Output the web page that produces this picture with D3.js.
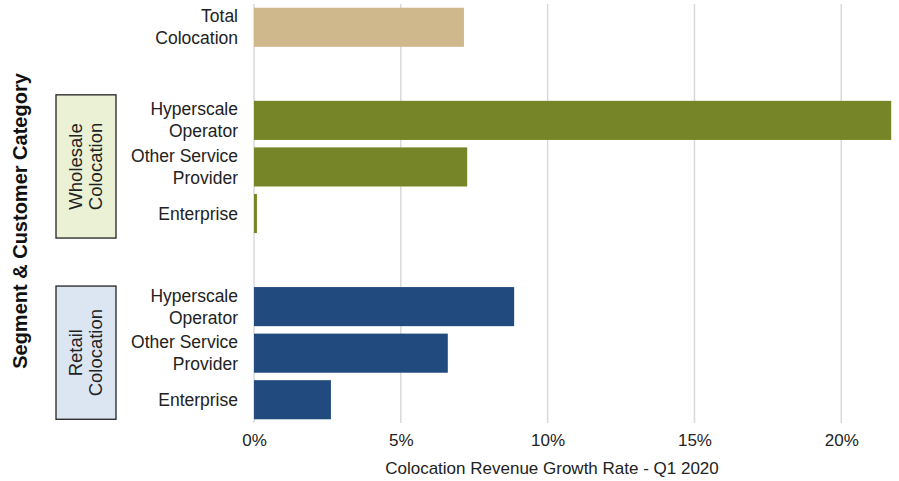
<!DOCTYPE html>
<html>
<head>
<meta charset="utf-8">
<script src="https://cdn.jsdelivr.net/npm/d3@7"></script>
<style>
  body { margin: 0; background: #fff; }
  svg { font-family: "Liberation Sans", Arial, sans-serif; }
</style>
</head>
<body>
<div id="chart"></div>
<script>
// rows top to bottom, blanks are spacer rows
const rowKeys = ["total", "gap1", "wHyper", "wOther", "wEnt", "gap2", "rHyper", "rOther", "rEnt"];
const rowLabels = [["Total", "Colocation"], [], ["Hyperscale", "Operator"], ["Other Service", "Provider"], ["Enterprise"], [], ["Hyperscale", "Operator"], ["Other Service", "Provider"], ["Enterprise"]];
const growth = [0.0715, null, 0.217, 0.0726, 0.001, null, 0.0886, 0.066, 0.0262];
const segment = ["total", null, "wholesale", "wholesale", "wholesale", null, "retail", "retail", "retail"];
const xTicks = [0, 0.05, 0.10, 0.15, 0.20];

const groups = [
  {name: ["Wholesale", "Colocation"], first: "wHyper", last: "wEnt", fill: "#ebf1d5", padTop: 6, padBottom: 5},
  {name: ["Retail", "Colocation"], first: "rHyper", last: "rEnt", fill: "#dce6f2", padTop: 1, padBottom: 0}
];
const colors = {total: "#cfb88c", wholesale: "#768528", retail: "#214a7e"};

const width = 899, height = 481;
const svg = d3.select("#chart").append("svg")
    .attr("width", width)
    .attr("height", height);

const x = d3.scaleLinear().domain([0, 0.22]).range([254, 900]);
const y = d3.scaleBand().domain(rowKeys).range([4, 423]).paddingInner(0.16).paddingOuter(0.08);

// vertical grid
svg.append("g").selectAll("line")
    .data(xTicks)
    .join("line")
    .attr("x1", d => x(d)).attr("x2", d => x(d))
    .attr("y1", 4).attr("y2", 423)
    .attr("stroke", "#d9d9d9")
    .attr("stroke-width", 1.5);

// bars
svg.append("g").selectAll("rect")
    .data(rowKeys.map((k, i) => ({k, v: growth[i], s: segment[i]})).filter(d => d.v !== null))
    .join("rect")
    .attr("x", x(0))
    .attr("y", d => y(d.k))
    .attr("width", d => x(d.v) - x(0))
    .attr("height", y.bandwidth())
    .attr("fill", d => colors[d.s]);

// x axis
const xAxis = svg.append("g")
    .attr("transform", "translate(0,423)")
    .call(d3.axisBottom(x).tickValues(xTicks).tickFormat(d3.format(".0%")).tickSize(0).tickPadding(11));
xAxis.select(".domain").remove();
xAxis.selectAll("text").attr("font-size", 17).attr("fill", "#222").attr("font-family", "Liberation Sans, Arial, sans-serif");

svg.append("text")
    .attr("x", 552).attr("y", 474)
    .attr("text-anchor", "middle")
    .attr("font-size", 17)
    .attr("fill", "#222")
    .text("Colocation Revenue Growth Rate - Q1 2020");

// category labels
const catLabels = svg.append("g").selectAll("text")
    .data(rowKeys.map((k, i) => ({k, lines: rowLabels[i]})).filter(d => d.lines.length))
    .join("text")
    .attr("text-anchor", "end")
    .attr("font-size", 17.5)
    .attr("fill", "#222");
catLabels.each(function(d) {
  const cy = y(d.k) + y.bandwidth() / 2;
  const n = d.lines.length;
  d3.select(this).selectAll("tspan")
    .data(d.lines)
    .join("tspan")
    .attr("x", 238)
    .attr("y", (t, j) => cy + (j - (n - 1) / 2) * 22 + 6)
    .text(t => t);
});

// segment boxes
const boxTop = d => y(d.first) - d.padTop;
const boxBottom = d => y(d.last) + y.bandwidth() + d.padBottom;
const gBox = svg.append("g").selectAll("g")
    .data(groups)
    .join("g");
gBox.append("rect")
    .attr("x", 56).attr("width", 60)
    .attr("y", boxTop)
    .attr("height", d => boxBottom(d) - boxTop(d))
    .attr("fill", d => d.fill)
    .attr("stroke", "#222")
    .attr("stroke-width", 1.3);
gBox.append("text")
    .attr("transform", d => `translate(86,${(boxTop(d) + boxBottom(d)) / 2}) rotate(-90)`)
    .attr("text-anchor", "middle")
    .attr("font-size", 18.5)
    .attr("fill", "#222")
    .selectAll("tspan")
    .data(d => d.name)
    .join("tspan")
    .attr("x", 0)
    .attr("y", (t, j) => (j - 0.5) * 20 + 6)
    .text(t => t);

// y axis title
svg.append("text")
    .attr("transform", `translate(27,221) rotate(-90)`)
    .attr("text-anchor", "middle")
    .attr("font-size", 20)
    .attr("font-weight", "bold")
    .attr("fill", "#111")
    .text("Segment & Customer Category");
</script>
</body>
</html>
